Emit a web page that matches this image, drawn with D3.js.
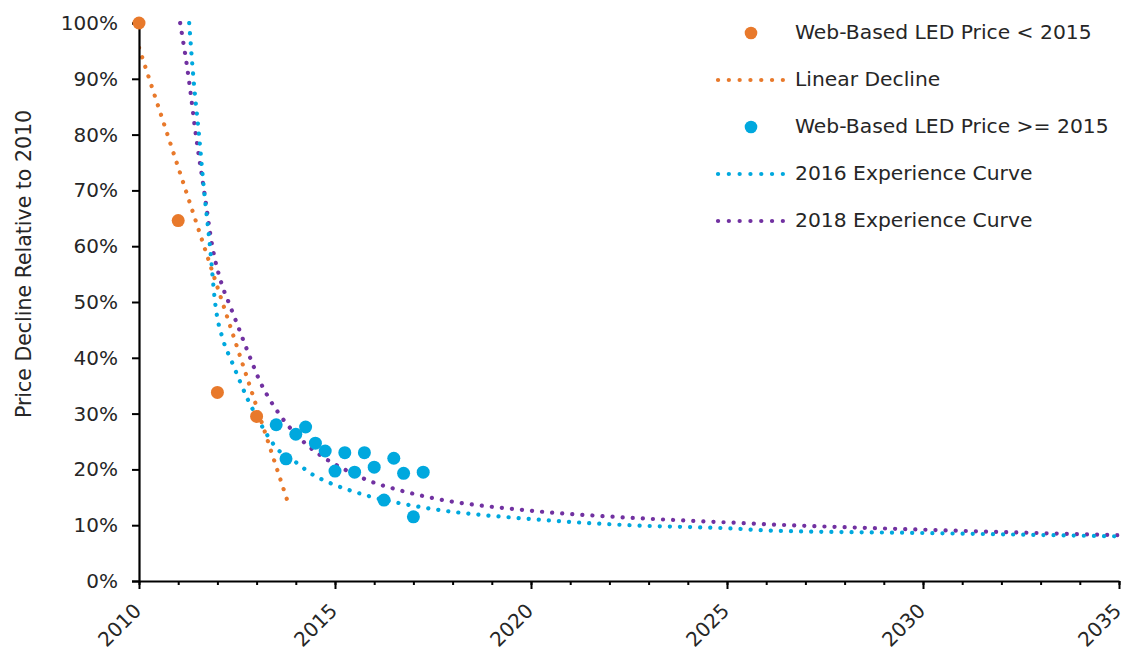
<!DOCTYPE html>
<html>
<head>
<meta charset="utf-8">
<script src="https://cdn.jsdelivr.net/npm/d3@7"></script>
<style>
  html, body { margin: 0; padding: 0; background: #fff; }
  svg { display: block; }
  text { font-family: "DejaVu Sans", sans-serif; fill: #262626; }
</style>
</head>
<body>
<svg id="chart" width="1125" height="650"></svg>
<script>
// ---- Data ----
const xTicks = [2010, 2015, 2020, 2025, 2030, 2035];
const yTicks = [0, 10, 20, 30, 40, 50, 60, 70, 80, 90, 100];

const priceBeforeYears = [2010, 2011, 2012, 2013];
const priceBeforeValues = [100, 64.6, 33.8, 29.5];

const priceAfterYears = [2013.5, 2013.75, 2014, 2014.25, 2014.5, 2014.75, 2015, 2015.25,
                         2015.5, 2015.75, 2016, 2016.25, 2016.5, 2016.75, 2017, 2017.25];
const priceAfterValues = [28.0, 21.9, 26.3, 27.6, 24.7, 23.3, 19.7, 23.0,
                          19.5, 23.0, 20.4, 14.5, 22.0, 19.3, 11.5, 19.5];

const linearYears = [2010, 2013.78];
const linearValues = [95.6, 14.5];

const curve2016Years = [2011.28, 2011.39, 2011.53, 2011.66, 2011.81, 2011.94, 2012.15, 2012.35,
                        2012.55, 2012.75, 2012.96, 2013.55, 2013.98, 2014.4, 2014.86, 2015.36,
                        2015.87, 2016.61, 2017.4, 2020, 2022.5, 2025, 2026.25, 2030, 2035];
const curve2016Values = [100, 90, 80, 70, 60, 50, 43.1, 39.6,
                         36.2, 32.9, 30.0, 23.5, 21.4, 19.2, 17.6, 16.3,
                         15.2, 14.0, 13.0, 11.1, 10.0, 9.45, 9.0, 8.6, 8.0];

const curve2018Years = [2011.05, 2011.27, 2011.45, 2011.66, 2011.87, 2012.11, 2012.3, 2012.49,
                        2012.68, 2012.87, 2013.07, 2013.32, 2013.6, 2014.3, 2014.74, 2015.19,
                        2015.89, 2016.63, 2017.4, 2020, 2022.5, 2025, 2026.25, 2030, 2035];
const curve2018Values = [100, 90, 80, 70, 60, 53.2, 49.7, 46.3,
                         42.8, 39.4, 36.0, 32.7, 29.7, 24.3, 22.0, 20.2,
                         17.9, 16.3, 15.0, 12.6, 11.35, 10.5, 10.1, 9.2, 8.2];

const legendLabels = ["Web-Based LED Price < 2015", "Linear Decline", "Web-Based LED Price >= 2015",
                      "2016 Experience Curve", "2018 Experience Curve"];

const ORANGE = "#E8792B", BLUE = "#00A8DE", PURPLE = "#7131A1";
const FONT = '"DejaVu Sans", sans-serif';

// ---- Layout ----
const svg = d3.select("#chart");
const mLeft = 139, mRight = 1119, mTop = 23, mBottom = 581;

const x = d3.scaleLinear().domain([2010, 2035]).range([mLeft, mRight]);
const y = d3.scaleLinear().domain([0, 100]).range([mBottom, mTop]);

const zip = (xs, ys) => xs.map((v, i) => [v, ys[i]]);

svg.append("defs").append("clipPath").attr("id", "clip")
  .append("rect").attr("x", mLeft).attr("y", mTop - 2).attr("width", mRight - mLeft + 4).attr("height", mBottom - mTop + 2);

const line = d3.line().x(d => x(d[0])).y(d => y(d[1])).curve(d3.curveMonotoneX);
const DASH = "0.1 10";

const plot = svg.append("g").attr("clip-path", "url(#clip)");

function dotted(data, color) {
  plot.append("path").datum(data)
    .attr("d", line)
    .attr("fill", "none")
    .attr("stroke", color)
    .attr("stroke-width", 4.2)
    .attr("stroke-linecap", "round")
    .attr("stroke-dasharray", DASH);
}

dotted(zip(curve2018Years, curve2018Values), PURPLE);
dotted(zip(curve2016Years, curve2016Values), BLUE);
dotted(zip(linearYears, linearValues), ORANGE);

// ---- Axes ----
const yAxis = d3.axisLeft(y).tickValues(yTicks).tickFormat(d => d + "%").tickSize(7).tickPadding(14);
const yg = svg.append("g").attr("transform", `translate(${mLeft},0)`).call(yAxis);
yg.select(".domain").attr("stroke", "#000").attr("stroke-width", 2.2);
yg.selectAll(".tick line").attr("stroke", "#000").attr("stroke-width", 2);
yg.selectAll(".tick text").style("font-size", "20px").attr("fill", "#262626").style("font-family", FONT);

const xMinor = d3.range(2010, 2036);
const xAxisMinor = d3.axisBottom(x).tickValues(xMinor).tickSize(4).tickFormat("");
const xgm = svg.append("g").attr("transform", `translate(0,${mBottom})`).call(xAxisMinor);
xgm.select(".domain").remove();
xgm.selectAll(".tick line").attr("stroke", "#000").attr("stroke-width", 2);

const xAxis = d3.axisBottom(x).tickValues(xTicks).tickSize(8).tickFormat(d3.format("d")).tickSizeOuter(0);
const xg = svg.append("g").attr("transform", `translate(0,${mBottom})`).call(xAxis);
xg.select(".domain").attr("stroke", "#000").attr("stroke-width", 2.2);
xg.selectAll(".tick line").attr("stroke", "#000").attr("stroke-width", 2);
xg.selectAll(".tick text")
  .style("font-size", "20px").attr("fill", "#262626").style("font-family", FONT)
  .attr("text-anchor", "end")
  .attr("dy", null).attr("y", null)
  .attr("transform", "translate(-1,27) rotate(-45)")
  .attr("dominant-baseline", "middle");

// ---- Points ----
svg.append("g").selectAll("circle").data(zip(priceBeforeYears, priceBeforeValues)).join("circle")
  .attr("cx", d => x(d[0])).attr("cy", d => y(d[1])).attr("r", 6.5).attr("fill", ORANGE);
svg.append("g").selectAll("circle").data(zip(priceAfterYears, priceAfterValues)).join("circle")
  .attr("cx", d => x(d[0])).attr("cy", d => y(d[1])).attr("r", 6.5).attr("fill", BLUE);

// ---- Y label ----
svg.append("text")
  .attr("transform", "translate(25,264) rotate(-90)")
  .attr("text-anchor", "middle")
  .attr("dominant-baseline", "middle")
  .style("font-size", "20.5px")
  .text("Price Decline Relative to 2010");

// ---- Legend ----
const legendTypes = ["dot", "line", "dot", "line", "line"];
const legendColors = [ORANGE, ORANGE, BLUE, BLUE, PURPLE];
const lg = svg.append("g");
legendLabels.forEach((lab, i) => {
  const cy = 33 + i * 47;
  if (legendTypes[i] === "dot") {
    lg.append("circle").attr("cx", 751).attr("cy", cy).attr("r", 6.3).attr("fill", legendColors[i]);
  } else {
    lg.append("line").attr("x1", 718).attr("x2", 783).attr("y1", cy).attr("y2", cy)
      .attr("stroke", legendColors[i]).attr("stroke-width", 4.2)
      .attr("stroke-linecap", "round").attr("stroke-dasharray", "0.1 10.7");
  }
  lg.append("text").attr("x", 795).attr("y", cy).attr("dominant-baseline", "middle")
    .style("font-size", "20.3px").text(lab);
});
</script>
</body>
</html>
